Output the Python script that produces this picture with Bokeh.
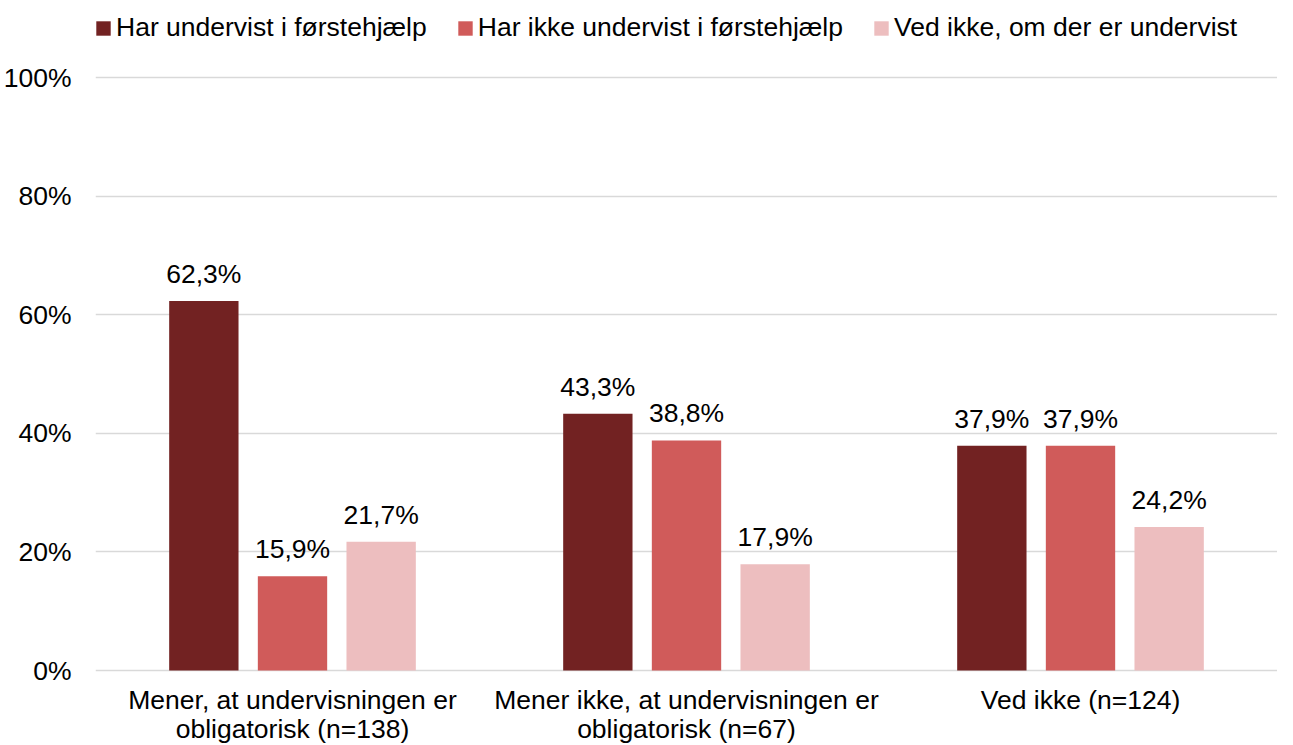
from bokeh.plotting import figure
from bokeh.models import (ColumnDataSource, FactorRange, Range1d, FixedTicker,
                          PrintfTickFormatter, LabelSet, Legend, LegendItem)
from bokeh.core.properties import value
from bokeh.transform import dodge
from bokeh.embed import file_html
from bokeh.resources import INLINE

categories = ["Mener, at undervisningen er\nobligatorisk (n=138)",
              "Mener ikke, at undervisningen er\nobligatorisk (n=67)",
              "Ved ikke (n=124)"]
series_names = ["Har undervist i førstehjælp",
                "Har ikke undervist i førstehjælp",
                "Ved ikke, om der er undervist"]
har_undervist = [62.3, 43.3, 37.9]
har_ikke_undervist = [15.9, 38.8, 37.9]
ved_ikke = [21.7, 17.9, 24.2]
y_ticks = [0, 20, 40, 60, 80, 100]

colors = ["#722222", "#D05B5A", "#EDBEBF"]
FONT = "Liberation Sans"
FS = "26.5px"

def fmt(v):
    return f"{v:.1f}".replace(".", ",") + "%"

series = [har_undervist, har_ikke_undervist, ved_ikke]
offsets = [-0.225, 0.0, 0.225]

W, H = 1277, 745
PX_PER_PCT = 5.93          # 100% spans 593px
TOP_GAP, BOTTOM_GAP = 77, 75
Y_START = -BOTTOM_GAP / PX_PER_PCT
Y_END = 100 + TOP_GAP / PX_PER_PCT

p = figure(x_range=FactorRange(*categories), y_range=Range1d(Y_START, Y_END),
           width=W, height=H, output_backend="svg", toolbar_location=None,
           min_border_left=92, min_border_right=0, min_border_top=0,
           min_border_bottom=0)
p.outline_line_color = None
p.background_fill_color = "white"

renderers = []
for vals, off, col in zip(series, offsets, colors):
    src = ColumnDataSource(dict(cat=categories, val=vals, lbl=[fmt(v) for v in vals]))
    r = p.vbar(x=dodge("cat", off, range=p.x_range), top="val", bottom=0, width=0.176,
               source=src, fill_color=col, line_color=None)
    renderers.append(r)
    ls = LabelSet(x=dodge("cat", off, range=p.x_range), y="val", text="lbl",
                  source=src, text_align="center", text_baseline="alphabetic",
                  y_offset=18, text_font=value(FONT), text_font_size=value(FS),
                  text_color="#000000")
    p.add_layout(ls)

# category labels beneath the 0% baseline, one LabelSet per text line
line1 = [c.split("\n")[0] for c in categories]
line2 = [c.split("\n")[1] if "\n" in c else "" for c in categories]
cat_src = ColumnDataSource(dict(cat=categories, y=[0] * len(categories),
                                l1=line1, l2=line2))
for field, off in (("l1", -38), ("l2", -67)):
    p.add_layout(LabelSet(x="cat", y="y", text=field, source=cat_src,
                          text_align="center", text_baseline="alphabetic",
                          y_offset=off, text_font=value(FONT),
                          text_font_size=value(FS), text_color="#000000"))

p.xaxis.visible = False

p.yaxis.ticker = FixedTicker(ticks=y_ticks)
p.yaxis.formatter = PrintfTickFormatter(format="%d%%")
p.yaxis.axis_line_color = None
p.yaxis.major_tick_line_color = None
p.yaxis.minor_tick_line_color = None
p.yaxis.major_tick_out = 0
p.yaxis.major_label_standoff = 24
p.yaxis.major_label_text_font = FONT
p.yaxis.major_label_text_font_size = FS
p.yaxis.major_label_text_color = "#000000"

p.xgrid.grid_line_color = None
p.ygrid.grid_line_color = "#D9D9D9"
p.ygrid.grid_line_width = 1.5

legend = Legend(items=[LegendItem(label=n, renderers=[r]) for n, r in zip(series_names, renderers)],
                orientation="horizontal", location=(-1, H - 43),
                glyph_width=18, glyph_height=18, label_standoff=4, spacing=29,
                padding=0, margin=0, border_line_color=None,
                background_fill_alpha=0,
                label_text_font=FONT, label_text_font_size=FS,
                label_text_color="#000000")
p.add_layout(legend)

open("out.html", "w").write(file_html(p, INLINE))
